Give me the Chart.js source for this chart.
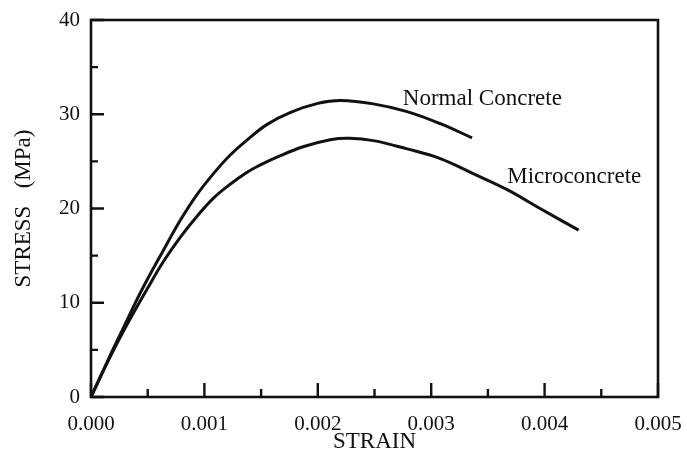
<!DOCTYPE html>
<html>
<head>
<meta charset="utf-8">
<script src="https://cdn.jsdelivr.net/npm/chart.js@4"></script>
<style>
  html, body { margin: 0; padding: 0; background: #fff; }
  #wrap { width: 687px; height: 456px; position: relative; }
</style>
</head>
<body>
<div id="wrap"><canvas id="c" width="687" height="456"></canvas></div>
<script>
// ---- data ----
const normalStrain = [0, 0.0001, 0.0002, 0.0003, 0.00045, 0.00064, 0.00079, 0.00093, 0.00108, 0.00123, 0.00137, 0.00155, 0.00176, 0.00200, 0.00220, 0.00249, 0.00278, 0.00308, 0.00336];
const normalStress = [0, 2.6, 5.2, 7.7, 11.4, 15.6, 18.8, 21.4, 23.7, 25.7, 27.2, 28.9, 30.2, 31.15, 31.45, 31.1, 30.3, 29.0, 27.5];
const microStrain = [0, 0.0001, 0.0002, 0.0003, 0.00049, 0.00064, 0.00079, 0.00093, 0.00108, 0.00123, 0.00137, 0.00149, 0.00164, 0.00187, 0.00211, 0.00228, 0.00249, 0.00278, 0.00308, 0.00337, 0.00367, 0.00396, 0.0043];
const microStress = [0, 2.55, 5.0, 7.3, 11.35, 14.4, 17.0, 19.1, 21.1, 22.6, 23.8, 24.6, 25.45, 26.55, 27.3, 27.45, 27.2, 26.35, 25.3, 23.7, 22.0, 20.0, 17.7];
const seriesNames = ['Normal Concrete', 'Microconcrete'];
const xTickValues = [0, 0.001, 0.002, 0.003, 0.004, 0.005];
const yTickValues = [0, 10, 20, 30, 40];
const xMinorValues = [0.0005, 0.0015, 0.0025, 0.0035, 0.0045];
const yMinorValues = [5, 15, 25, 35];
const xTitle = 'STRAIN';
const yTitle = 'STRESS   (MPa)';
// label anchors in data units
const labelStrain = [0.00275, 0.00367];
const labelStress = [31.0, 22.7];

const FONT = '"Liberation Serif", "Times New Roman", serif';

const toPts = (xs, ys) => xs.map((x, i) => ({ x: x, y: ys[i] }));

const frame = {
  id: 'frame',
  afterDraw(chart) {
    const { ctx, chartArea: a, scales } = chart;
    const xs = scales.x, ys = scales.y;
    ctx.save();
    ctx.strokeStyle = '#111';
    ctx.lineWidth = 2.6;
    ctx.strokeRect(a.left, a.top, a.right - a.left, a.bottom - a.top);
    ctx.lineWidth = 2.4;
    ctx.beginPath();
    xTickValues.forEach(v => { const p = xs.getPixelForValue(v); ctx.moveTo(p, a.bottom); ctx.lineTo(p, a.bottom - 14); });
    xMinorValues.forEach(v => { const p = xs.getPixelForValue(v); ctx.moveTo(p, a.bottom); ctx.lineTo(p, a.bottom - 8); });
    yTickValues.forEach(v => { const p = ys.getPixelForValue(v); ctx.moveTo(a.left, p); ctx.lineTo(a.left + 13, p); });
    yMinorValues.forEach(v => { const p = ys.getPixelForValue(v); ctx.moveTo(a.left, p); ctx.lineTo(a.left + 7, p); });
    ctx.stroke();
    ctx.fillStyle = '#111';
    ctx.font = '23px ' + FONT;
    ctx.textBaseline = 'alphabetic';
    ctx.textAlign = 'left';
    seriesNames.forEach((n, i) => {
      ctx.fillText(n, xs.getPixelForValue(labelStrain[i]), ys.getPixelForValue(labelStress[i]));
    });
    ctx.restore();
  }
};

new Chart(document.getElementById('c'), {
  type: 'scatter',
  data: {
    datasets: [
      { label: seriesNames[0], data: toPts(normalStrain, normalStress), showLine: true, borderColor: '#111', borderWidth: 3, pointRadius: 0, tension: 0.4, fill: false },
      { label: seriesNames[1], data: toPts(microStrain, microStress), showLine: true, borderColor: '#111', borderWidth: 3, pointRadius: 0, tension: 0.4, fill: false }
    ]
  },
  options: {
    responsive: false,
    animation: false,
    events: [],
    layout: { padding: { left: 0, right: 29, top: 20, bottom: 0 } },
    plugins: { legend: { display: false }, tooltip: { enabled: false } },
    scales: {
      x: {
        type: 'linear', min: 0, max: 0.005,
        afterBuildTicks: s => { s.ticks = xTickValues.map(v => ({ value: v })); },
        afterFit: s => { s.height = 59; s.paddingLeft = 0; s.paddingRight = 0; },
        grid: { display: false, drawTicks: false },
        border: { display: false },
        ticks: { color: '#111', font: { family: FONT, size: 21 }, padding: 15, maxRotation: 0, autoSkip: false, callback: v => v.toFixed(3) },
        title: { display: true, text: xTitle, color: '#111', font: { family: FONT, size: 23 }, padding: { top: 1, bottom: 0 } }
      },
      y: {
        type: 'linear', min: 0, max: 40,
        afterBuildTicks: s => { s.ticks = yTickValues.map(v => ({ value: v })); },
        afterFit: s => { s.width = 91; s.paddingTop = 0; s.paddingBottom = 0; },
        grid: { display: false, drawTicks: false },
        border: { display: false },
        ticks: { color: '#111', font: { family: FONT, size: 21 }, padding: 11, autoSkip: false, callback: v => String(v) },
        title: { display: true, text: yTitle, color: '#111', font: { family: FONT, size: 23 }, padding: { top: 10, bottom: 0 } }
      }
    }
  },
  plugins: [frame]
});
</script>
</body>
</html>
